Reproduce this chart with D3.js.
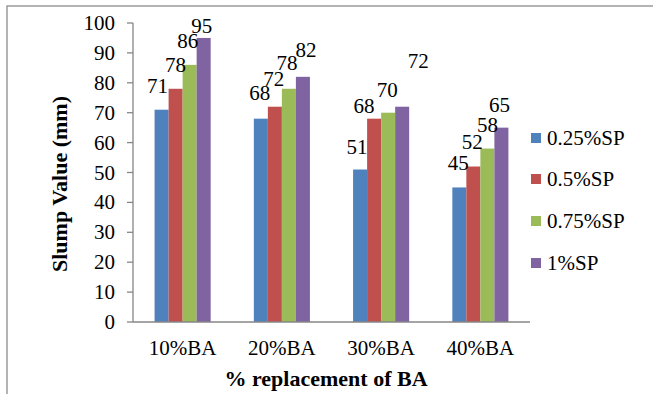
<!DOCTYPE html>
<html><head><meta charset="utf-8">
<script src="https://cdn.jsdelivr.net/npm/d3@7/dist/d3.min.js"></script>
</head><body style="margin:0">
<script>
const categories = ["10%BA", "20%BA", "30%BA", "40%BA"];
const seriesNames = ["0.25%SP", "0.5%SP", "0.75%SP", "1%SP"];
const sp025 = [71, 68, 51, 45];
const sp05  = [78, 72, 68, 52];
const sp075 = [86, 78, 70, 58];
const sp1   = [95, 82, 72, 65];
const yTicks = [0, 10, 20, 30, 40, 50, 60, 70, 80, 90, 100];
const colors = ["#4F81BD", "#C0504D", "#9BBB59", "#8064A2"];
const seriesValues = [sp025, sp05, sp075, sp1];
// manual label nudges [dx, dy] per category, per series (layout, not data)
const labelNudge = [
  [[-4,-17],[0,-17],[-2,-17],[-2,-5]],
  [[-1,-19],[-1,-21],[-2,-19],[3,-20]],
  [[-3,-16],[-10,-6],[-1,-16],[16,-39]],
  [[-1,-17],[-1,-18],[0,-17],[-2,-16]]
];

const FONT = `"Liberation Serif", Tinos, FreeSerif, "Times New Roman", Times`;
const W = 653, H = 394;
const svg = d3.select("body").append("svg").attr("width", W).attr("height", H)
  .style("font-family", FONT);

// frame
svg.append("rect").attr("x", 7).attr("y", 6).attr("width", 660).attr("height", 420)
  .attr("fill", "none").attr("stroke", "#8c8c8c").attr("stroke-width", 1.3);

const pLeft = 133, pRight = 530, pTop = 23, pBottom = 322;
const y = d3.scaleLinear().domain([0, 100]).range([pBottom, pTop]);
const x0 = d3.scaleBand().domain(categories).range([pLeft, pRight]).padding(0);
const gw = x0.bandwidth() * 0.565;
const x1 = d3.scaleBand().domain(seriesNames).range([0, gw]).padding(0);

function txt(g, x, yy, s, size, anchor, weight, rot) {
  const t = g.append("text")
    .attr("x", x).attr("y", yy)
    .attr("font-family", FONT)
    .style("font-family", FONT)
    .style("font-size", size + "px")
    .attr("text-anchor", anchor || "middle").attr("fill", "#000")
    .text(s);
  if (rot) t.attr("transform", `rotate(${rot},${x},${yy})`);
  if (weight) t.style("font-weight", weight);
  return t;
}

// bars
categories.forEach((c, ci) => {
  const gx = x0(c) + (x0.bandwidth() - gw) / 2;
  seriesNames.forEach((s, si) => {
    const v = seriesValues[si][ci];
    svg.append("rect")
      .attr("x", gx + x1(s)).attr("y", y(v))
      .attr("width", x1.bandwidth()).attr("height", y(0) - y(v))
      .attr("fill", colors[si]);
  });
});

// y axis
const ya = svg.append("g");
ya.append("line").attr("x1", pLeft).attr("x2", pLeft).attr("y1", pTop).attr("y2", pBottom)
  .attr("stroke", "#868686").attr("stroke-width", 1.3);
yTicks.forEach(t => {
  ya.append("line").attr("x1", pLeft - 6).attr("x2", pLeft).attr("y1", y(t)).attr("y2", y(t))
    .attr("stroke", "#868686").attr("stroke-width", 1.3);
  txt(ya, 115, y(t) + 7, String(t), 21, "end");
});
// x axis
svg.append("line").attr("x1", pLeft).attr("x2", pRight).attr("y1", pBottom).attr("y2", pBottom)
  .attr("stroke", "#868686").attr("stroke-width", 1.3);
categories.forEach(c => {
  txt(svg, x0(c) + x0.bandwidth() / 2, 355, c, 21, "middle");
});

// data labels
categories.forEach((c, ci) => {
  const gx = x0(c) + (x0.bandwidth() - gw) / 2;
  seriesNames.forEach((s, si) => {
    const v = seriesValues[si][ci];
    const n = labelNudge[ci][si];
    txt(svg, gx + x1(s) + x1.bandwidth() / 2 + n[0], y(v) + n[1], String(v), 21, "middle");
  });
});

// axis titles
txt(svg, 326, 386, "% replacement of BA", 22, "middle", "bold");
txt(svg, 67, 184, "Slump Value (mm)", 22, "middle", "bold", -90);

// legend
const legRows = [138, 179, 221, 263];
seriesNames.forEach((s, i) => {
  svg.append("rect").attr("x", 531).attr("y", legRows[i] - 5).attr("width", 10).attr("height", 10)
    .attr("fill", colors[i]);
  txt(svg, 547, legRows[i] + 7, s, 21, "start");
});
</script>
</body></html>
